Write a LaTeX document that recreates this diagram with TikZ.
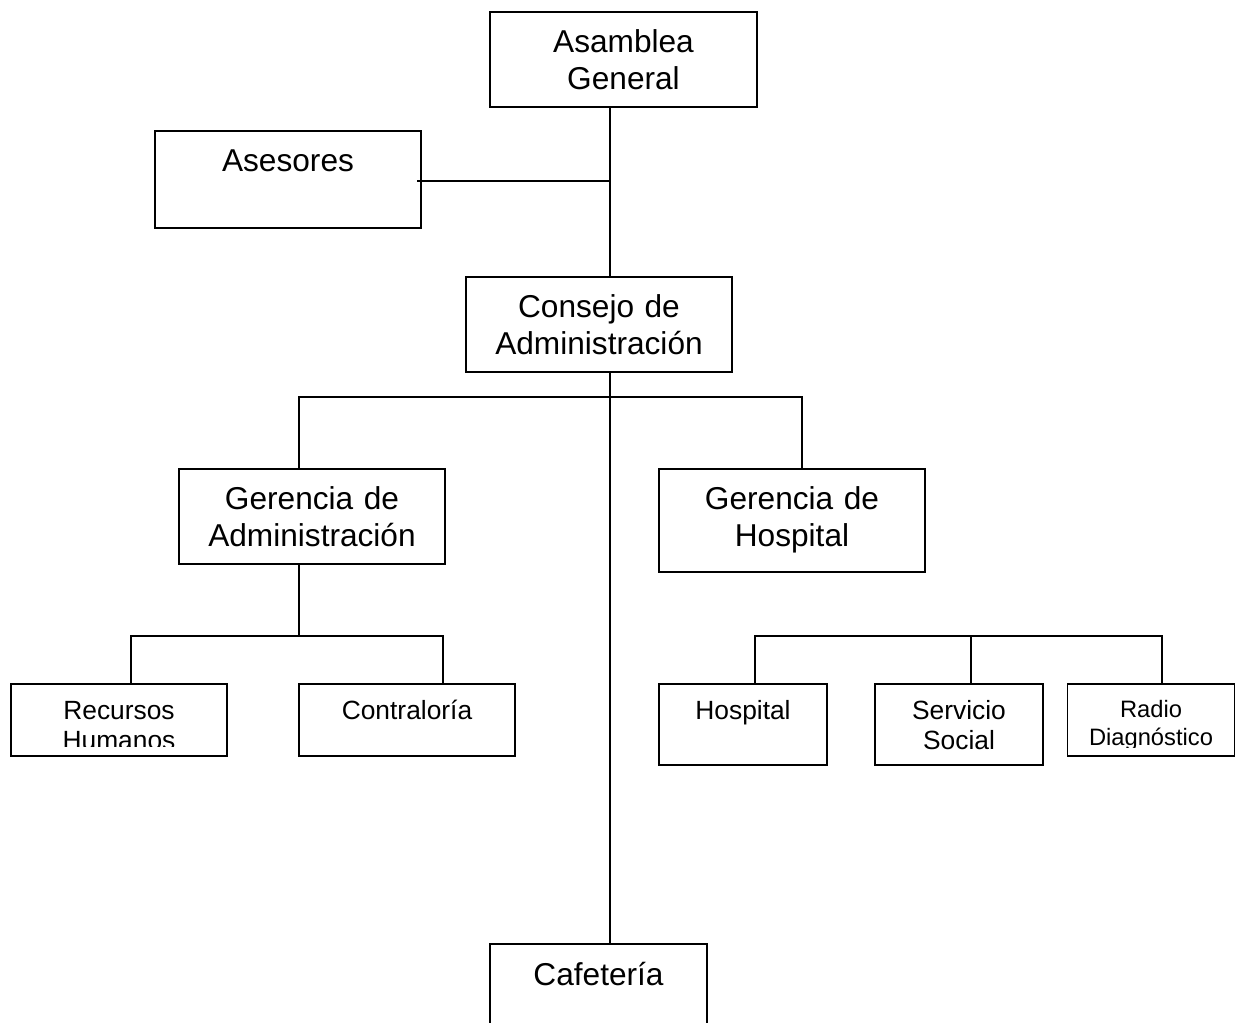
\documentclass[tikz,border=0pt]{standalone}
\usepackage{fontspec}
\setmainfont{Liberation Sans}
\tikzset{
  bigbox/.style={rectangle,draw,inner sep=0pt,outer sep=0pt,align=center,font=\fontsize{18}{20.5}\selectfont,text height=0.82cm},
  smallbox/.style={rectangle,draw,inner sep=0pt,outer sep=0pt,align=center,font=\fontsize{15}{17}\selectfont,text height=0.72cm},
}
\begin{document}
\begin{tikzpicture}[x=0.02cm,y=-0.02cm,line width=1.1pt]
  \useasboundingbox (0,0) rectangle (1235,1023);
  \clip (0,0) rectangle (1235,1023);
  % draw top boxes
  \node at(623.5,59.5)[bigbox,text width=5.34cm,text depth=1.08cm](asamblea){Asamblea\\General};
  \node at(288,179.5)[bigbox,text width=5.32cm,text depth=1.12cm](asesores){Asesores};
  \node at(599,324.5)[bigbox,text width=5.32cm,text depth=1.08cm](consejo){Consejo de\\Administración};
  % draw gerencia boxes
  \node at(312,516.5)[bigbox,text width=5.32cm,text depth=1.08cm](gadmin){Gerencia de\\Administración};
  \node at(792,520.5)[bigbox,text width=5.32cm,text depth=1.24cm](ghosp){Gerencia de\\Hospital};
  % draw lower boxes (text cut at the bottom)
  \begin{scope}
    \clip (0,600) rectangle (260,747);
    \node at(119,720)[smallbox,text width=4.32cm,text depth=0.72cm](rrhh){Recursos\\Humanos};
  \end{scope}
  \draw (rrhh.south west) rectangle (rrhh.north east);
  \node at(407,720)[smallbox,text width=4.32cm,text depth=0.72cm](contra){Contraloría};
  \node at(743,724.5)[smallbox,text width=3.36cm,text depth=0.9cm](hosp){Hospital};
  \node at(959,724.5)[smallbox,text width=3.36cm,text depth=0.9cm](social){Servicio\\Social};
  \begin{scope}
    \clip (1040,600) rectangle (1235,748);
    \node at(1151,720)[smallbox,font=\fontsize{13.5}{15.4}\selectfont,text height=0.68cm,text width=3.34cm,text depth=0.76cm](radio){Radio\\Diagnóstico};
  \end{scope}
  \draw (radio.south west) rectangle (radio.north east);
  % draw cafeteria box
  \node at(598.5,991.5)[bigbox,text width=4.34cm,text depth=1.08cm](cafe){Cafetería};
  % junction points
  \coordinate (trunk) at (610,181);
  \coordinate (gaJoin) at (299,397);
  \coordinate (ghJoin) at (802,397);
  \coordinate (rrJoin) at (131,636);
  \coordinate (coJoin) at (443,636);
  \coordinate (hoJoin) at (755,636);
  \coordinate (soJoin) at (971,636);
  \coordinate (raJoin) at (1162,636);
  % draw main trunk
  \draw (asamblea.south -| trunk) -- (consejo.north -| trunk);
  \draw ([xshift=-2]asesores.east |- trunk) -- (trunk);
  \draw (consejo.south -| trunk) -- (cafe.north -| trunk);
  % draw gerencia branches
  \draw (gadmin.north -| gaJoin) -- (gaJoin) -- (ghJoin) -- (ghosp.north -| ghJoin);
  % draw administration branches
  \draw (gadmin.south -| gaJoin) -- (gaJoin |- rrJoin);
  \draw (rrhh.north -| rrJoin) -- (rrJoin) -- (coJoin) -- (contra.north -| coJoin);
  % draw hospital branches
  \draw (hosp.north -| hoJoin) -- (hoJoin) -- (raJoin) -- (radio.north -| raJoin);
  \draw (soJoin) -- (social.north -| soJoin);
\end{tikzpicture}
\end{document}
